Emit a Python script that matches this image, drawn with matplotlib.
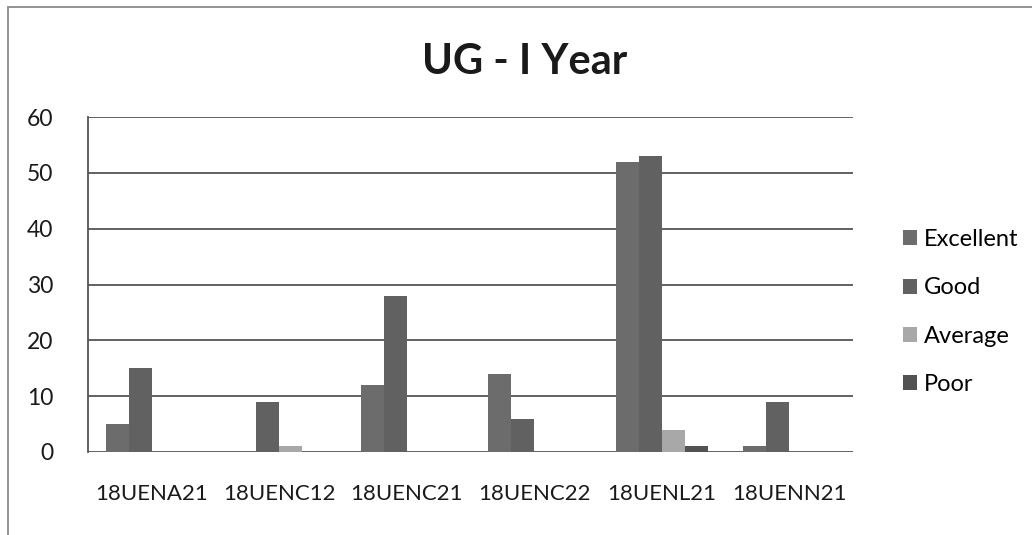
import matplotlib
matplotlib.use("Agg")
import matplotlib.pyplot as plt
import numpy as np
from matplotlib.patches import Rectangle

plt.rcParams["font.family"] = ["Lato", "DejaVu Sans"]

courses = ["18UENA21", "18UENC12", "18UENC21", "18UENC22", "18UENL21", "18UENN21"]
excellent = [5, 0, 12, 14, 52, 1]
good = [15, 9, 28, 6, 53, 9]
average = [0, 1, 0, 0, 4, 0]
poor = [0, 0, 0, 0, 1, 0]

series = [
    ("Excellent", excellent, "#6c6c6c"),
    ("Good", good, "#616161"),
    ("Average", average, "#a8a8a8"),
    ("Poor", poor, "#525252"),
]

fig = plt.figure(figsize=(10.32, 5.35), dpi=100)
ax = fig.add_axes([88 / 1032, 1 - 452 / 535, (853 - 88) / 1032, (452 - 117) / 535])

# chart border (only the left and top edges are inside the scan)
fig.patches.append(Rectangle((8 / 1032, -0.1), 1.2, 1 - 7 / 535 + 0.1,
                             transform=fig.transFigure, fill=False,
                             edgecolor="#8a8a8a", linewidth=1.3))

x = np.arange(len(courses))
w = 0.18
for i, (name, vals, col) in enumerate(series):
    ax.bar(x + (i - 1.5) * w, vals, w, color=col, label=name, zorder=3)

ax.set_xlim(-0.5, len(courses) - 0.5)
ax.set_ylim(0, 60)
ax.set_yticks(range(0, 61, 10))
ax.yaxis.grid(True, color="#555555", linewidth=1.3, zorder=0)
ax.set_xticks(x)
ax.set_xticklabels(courses)
ax.tick_params(axis="x", length=0, labelsize=16, colors="#1a1a1a", pad=23)
ax.tick_params(axis="y", length=0, labelsize=16.5, colors="#1a1a1a", pad=25)
for s in ["top", "right", "bottom"]:
    ax.spines[s].set_visible(False)
ax.spines["left"].set_color("#555555")
ax.spines["left"].set_linewidth(1.3)

fig.text(525 / 1032, 1 - 62 / 535, "UG - I Year", ha="center", va="center",
         fontsize=30, fontweight="bold", color="#1a1a1a")

fig.legend(loc="center left", bbox_to_anchor=(903 / 1032, 1 - 312 / 535),
           frameon=False, fontsize=17, handlelength=0.6, handleheight=0.6,
           handletextpad=0.3, labelspacing=1.15, borderpad=0, borderaxespad=0)

fig.savefig("out.png", dpi=100)
